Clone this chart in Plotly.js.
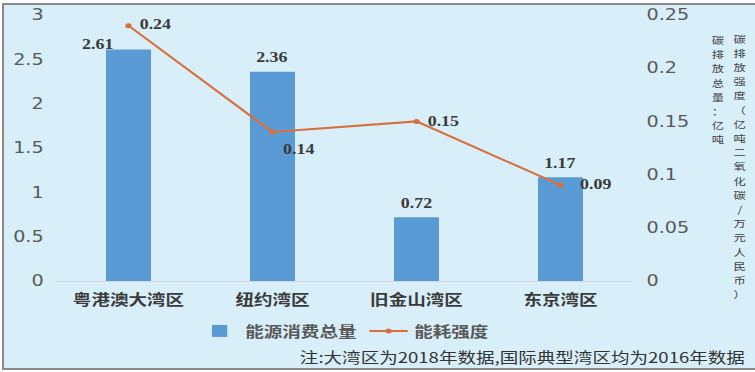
<!DOCTYPE html>
<html>
<head>
<meta charset="utf-8">
<script src="https://cdn.plot.ly/plotly-3.0.1.min.js"></script>
<style>
  html, body { margin: 0; padding: 0; background: #ffffff; width: 755px; height: 372px; overflow: hidden; }
  #frame {
    position: absolute; left: 2px; top: 3px; width: 751px; height: 363px;
    border-left: 2px solid #8a8a8a; border-top: 2px solid #8a8a8a; border-bottom: 2px solid #8a8a8a;
    background: #d8eff9; overflow: hidden;
  }
  #chart { width: 587px; height: 363px; transform: scaleX(1.28); transform-origin: 0 0; }
</style>
</head>
<body>
<div id="frame"><div id="chart"></div></div>
<script>
// ---- data ----
const categories = ['粤港澳大湾区', '纽约湾区', '旧金山湾区', '东京湾区'];
const energyTotal = [2.61, 2.36, 0.72, 1.17];      // 能源消费总量 (left axis)
const energyIntensity = [0.24, 0.14, 0.15, 0.09];  // 能耗强度 (right axis)
const seriesNames = ['能源消费总量', '能耗强度'];
const rightTitleA = '碳排放强度（亿吨二氧化碳/万元人民币）';
const rightTitleB = '碳排放总量：亿吨';
const noteText = '注:大湾区为2018年数据,国际典型湾区均为2016年数据';

// ---- styles ----
const BAR_COLOR = '#5b9bd5';
const LINE_COLOR = '#d9703c';
const TICK_FONT = { family: 'DejaVu Sans', size: 15, color: '#595959' };
const LABEL_FONT = { family: 'Liberation Serif', size: 14, color: '#3a3a3a', weight: 'bold' };
const VTITLE_FONT = { family: 'Noto Sans CJK SC', size: 9.6, color: '#404040' };

// label offsets (px) relative to their data point
const barLabelOffsets = [[-23.4, 5.5], [0, 14.5], [0, 14], [0, 13.5]];
const lineLabelOffsets = [[21.5, 1.5], [21, -17], [21, 0], [27.3, 1]];

const annotations = [];
categories.forEach((c, i) => {
  annotations.push({
    x: c, y: energyTotal[i], xref: 'x', yref: 'y',
    text: energyTotal[i].toFixed(2), showarrow: false,
    xanchor: 'center', yanchor: 'middle',
    xshift: barLabelOffsets[i][0], yshift: barLabelOffsets[i][1],
    font: LABEL_FONT
  });
  annotations.push({
    x: c, y: energyIntensity[i], xref: 'x', yref: 'y2',
    text: energyIntensity[i].toFixed(2), showarrow: false,
    xanchor: 'center', yanchor: 'middle',
    xshift: lineLabelOffsets[i][0], yshift: lineLabelOffsets[i][1],
    font: LABEL_FONT
  });
});

// vertical (stacked, upright) axis titles: one character per row
const PLOT_TOP = 15, PLOT_H = 266, ROW = 14.2;
function addVertical(str, xPaper, firstCenterY) {
  Array.from(str).forEach((ch, k) => {
    const py = firstCenterY + k * ROW;
    annotations.push({
      x: xPaper, y: 1 - (py - PLOT_TOP) / PLOT_H, xref: 'paper', yref: 'paper',
      showarrow: false, xanchor: 'center', yanchor: 'middle', text: ch,
      font: VTITLE_FONT
    });
  });
}
addVertical(rightTitleA, 1.186, 38.5);
addVertical(rightTitleB, 1.149, 40);

annotations.push({
  x: 1.2006, y: -0.282, xref: 'paper', yref: 'paper', showarrow: false,
  xanchor: 'right', yanchor: 'middle', text: noteText,
  font: { family: 'Noto Sans CJK SC', size: 14.5, color: '#333333' }
});

const traces = [
  {
    type: 'bar', name: seriesNames[0], x: categories, y: energyTotal,
    marker: { color: BAR_COLOR }, hoverinfo: 'skip'
  },
  {
    type: 'scatter', mode: 'lines+markers', name: seriesNames[1], x: categories, y: energyIntensity,
    yaxis: 'y2', line: { color: LINE_COLOR, width: 2 },
    marker: { color: LINE_COLOR, size: 5 }, hoverinfo: 'skip'
  }
];

const layout = {
  width: 587, height: 363,
  margin: { l: 41, r: 96, t: 10, b: 87, pad: 0 },
  paper_bgcolor: 'rgba(0,0,0,0)', plot_bgcolor: 'rgba(0,0,0,0)',
  bargap: 0.6875,
  showlegend: true,
  legend: {
    orientation: 'h', x: 0.501, xanchor: 'center', y: -0.188, yanchor: 'middle',
    bgcolor: 'rgba(0,0,0,0)',
    font: { family: 'Noto Sans CJK SC', size: 14.5, color: '#595959', weight: 'bold' }
  },
  xaxis: {
    type: 'category', showgrid: false, zeroline: false,
    showline: true, linecolor: '#cbd6dc', linewidth: 1,
    ticks: 'outside', ticklen: 6, tickcolor: 'rgba(0,0,0,0)',
    tickfont: { family: 'Noto Sans CJK SC', size: 14.5, color: '#3a3a3a', weight: 'bold' }
  },
  yaxis: {
    range: [0, 3], tick0: 0, dtick: 0.5, showgrid: false, zeroline: false,
    ticks: 'outside', ticklen: 6, tickcolor: 'rgba(0,0,0,0)', tickfont: TICK_FONT
  },
  yaxis2: {
    overlaying: 'y', side: 'right', range: [0, 0.25], tick0: 0, dtick: 0.05,
    showgrid: false, zeroline: false,
    ticks: 'outside', ticklen: 7, tickcolor: 'rgba(0,0,0,0)', tickfont: TICK_FONT
  },
  annotations: annotations
};

Plotly.newPlot('chart', traces, layout, { staticPlot: true, displayModeBar: false });
</script>
</body>
</html>
